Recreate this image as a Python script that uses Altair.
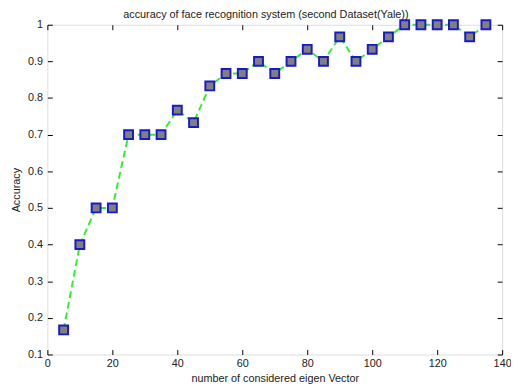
import altair as alt
import pandas as pd

n_vectors = [5, 10, 15, 20, 25, 30, 35, 40, 45, 50, 55, 60, 65, 70, 75, 80, 85, 90,
             95, 100, 105, 110, 115, 120, 125, 130, 135]
accuracy = [0.167, 0.4, 0.5, 0.5, 0.7, 0.7, 0.7, 0.767, 0.733, 0.833, 0.867, 0.867,
            0.9, 0.867, 0.9, 0.933, 0.9, 0.967, 0.9, 0.933, 0.967, 1.0, 1.0, 1.0,
            1.0, 0.967, 1.0]
x_ticks = [0, 20, 40, 60, 80, 100, 120, 140]
y_ticks = [0.1, 0.2, 0.3, 0.4, 0.5, 0.6, 0.7, 0.8, 0.9, 1.0]

df = pd.DataFrame({"n": n_vectors, "acc": accuracy})

FONT = "Liberation Sans"
xscale = alt.Scale(domain=[0, 140], nice=False, zero=False)
yscale = alt.Scale(domain=[0.1, 1.0], nice=False, zero=False)

common_axis = dict(tickColor="black", tickSize=5, offset=-5, domain=False, grid=False,
                   labelFont=FONT, labelFontSize=11, labelColor="#222222",
                   labelOverlap=False, labelBound=False, labelFlush=False,
                   titleFont=FONT, titleFontSize=11, titleFontWeight="normal",
                   titleColor="#222222")

x_main = alt.X("n:Q", scale=xscale,
               axis=alt.Axis(values=x_ticks, title="number of considered eigen Vector",
                             labelPadding=3, titlePadding=4, **common_axis))
y_main = alt.Y("acc:Q", scale=yscale,
               axis=alt.Axis(values=y_ticks, title="Accuracy",
                             labelPadding=5, titlePadding=6, **common_axis,
                             labelExpr="datum.value > 0.99 ? '1' : format(datum.value, '.1f')"))

base = alt.Chart(df).encode(x=x_main, y=y_main)
line = base.mark_line(color="#33ee33", strokeWidth=2, strokeDash=[7, 4])
points = base.mark_point(shape="square", filled=True, size=81, fill="#808080",
                         stroke="#1a1acc", strokeWidth=2, opacity=1)

mirror_axis = dict(tickColor="black", tickSize=5, offset=-5, domain=False, grid=False,
                   labels=False, title=None)
mirror = alt.Chart(df).mark_point(opacity=0).encode(
    x=alt.X("n:Q", scale=xscale, axis=alt.Axis(values=x_ticks, **mirror_axis)),
    y=alt.Y("acc:Q", scale=yscale, axis=alt.Axis(values=y_ticks, **mirror_axis)))

chart = alt.layer(alt.layer(line, points), mirror).resolve_axis(
    x="independent", y="independent").properties(
    width=462, height=335,
    title=alt.TitleParams("accuracy of  face recognition system (second Dataset(Yale))",
                          font=FONT, fontSize=11, fontWeight="normal", color="#222222",
                          offset=4, dx=-9, dy=8),
    autosize=alt.AutoSizeParams(type="none"),
    padding={"left": 40, "top": 14, "right": 9, "bottom": 30},
).configure_view(stroke="black", strokeWidth=1).configure(background="white")

chart.save("out.html", embed_options={"renderer": "svg", "actions": False})
